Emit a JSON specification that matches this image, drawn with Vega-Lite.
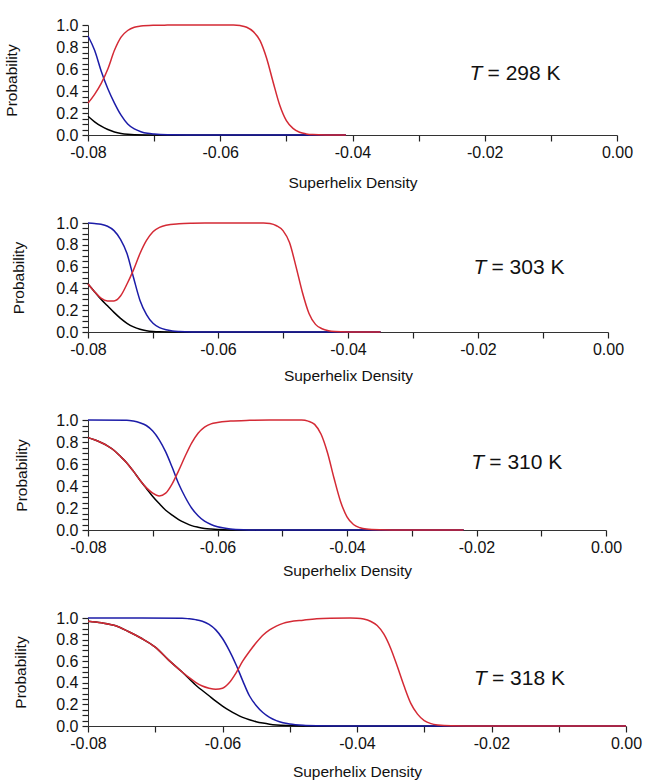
{
  "$schema": "https://vega.github.io/schema/vega-lite/v6.json",
  "padding": {"left": 4, "top": 17, "right": 5, "bottom": 5},
  "config": {
    "font": "Liberation Sans",
    "view": {"stroke": null},
    "axis": {
      "grid": false,
      "labelFontSize": 16,
      "titleFontSize": 15.5,
      "titleFontWeight": "normal",
      "labelColor": "#111111",
      "titleColor": "#111111",
      "domainColor": "#333333",
      "tickColor": "#222222",
      "tickWidth": 1.2,
      "labelOverlap": false
    },
    "text": {"color": "#111111"}
  },
  "datasets": {
    "t298": [
      {"x": -0.080, "p": 0.17, "state": "a"}, {"x": -0.079, "p": 0.12, "state": "a"}, {"x": -0.078, "p": 0.08, "state": "a"},
      {"x": -0.077, "p": 0.05, "state": "a"}, {"x": -0.076, "p": 0.028, "state": "a"}, {"x": -0.075, "p": 0.014, "state": "a"},
      {"x": -0.074, "p": 0.006, "state": "a"}, {"x": -0.073, "p": 0.002, "state": "a"}, {"x": -0.071, "p": 0.0005, "state": "a"},
      {"x": -0.068, "p": 0, "state": "a"}, {"x": -0.041, "p": 0, "state": "a"},
      {"x": -0.080, "p": 0.90, "state": "b"}, {"x": -0.079, "p": 0.77, "state": "b"}, {"x": -0.078, "p": 0.58, "state": "b"},
      {"x": -0.077, "p": 0.42, "state": "b"}, {"x": -0.076, "p": 0.29, "state": "b"}, {"x": -0.075, "p": 0.18, "state": "b"},
      {"x": -0.074, "p": 0.10, "state": "b"}, {"x": -0.073, "p": 0.055, "state": "b"}, {"x": -0.072, "p": 0.03, "state": "b"},
      {"x": -0.071, "p": 0.015, "state": "b"}, {"x": -0.070, "p": 0.008, "state": "b"}, {"x": -0.068, "p": 0.002, "state": "b"},
      {"x": -0.065, "p": 0.0005, "state": "b"}, {"x": -0.060, "p": 0, "state": "b"}, {"x": -0.041, "p": 0, "state": "b"},
      {"x": -0.080, "p": 0.29, "state": "c"}, {"x": -0.079, "p": 0.37, "state": "c"}, {"x": -0.078, "p": 0.47, "state": "c"},
      {"x": -0.077, "p": 0.60, "state": "c"}, {"x": -0.076, "p": 0.77, "state": "c"}, {"x": -0.075, "p": 0.89, "state": "c"},
      {"x": -0.074, "p": 0.95, "state": "c"}, {"x": -0.073, "p": 0.98, "state": "c"}, {"x": -0.072, "p": 0.99, "state": "c"},
      {"x": -0.070, "p": 0.997, "state": "c"}, {"x": -0.068, "p": 0.999, "state": "c"}, {"x": -0.066, "p": 1, "state": "c"},
      {"x": -0.058, "p": 1, "state": "c"}, {"x": -0.057, "p": 0.995, "state": "c"}, {"x": -0.056, "p": 0.98, "state": "c"},
      {"x": -0.055, "p": 0.94, "state": "c"}, {"x": -0.054, "p": 0.86, "state": "c"}, {"x": -0.053, "p": 0.70, "state": "c"},
      {"x": -0.052, "p": 0.48, "state": "c"}, {"x": -0.051, "p": 0.27, "state": "c"}, {"x": -0.050, "p": 0.13, "state": "c"},
      {"x": -0.049, "p": 0.06, "state": "c"}, {"x": -0.048, "p": 0.025, "state": "c"}, {"x": -0.047, "p": 0.01, "state": "c"},
      {"x": -0.046, "p": 0.004, "state": "c"}, {"x": -0.044, "p": 0.001, "state": "c"}, {"x": -0.041, "p": 0, "state": "c"}
    ],
    "t303": [
      {"x": -0.080, "p": 0.44, "state": "a"}, {"x": -0.079, "p": 0.37, "state": "a"}, {"x": -0.078, "p": 0.30, "state": "a"},
      {"x": -0.077, "p": 0.24, "state": "a"}, {"x": -0.076, "p": 0.18, "state": "a"}, {"x": -0.075, "p": 0.125, "state": "a"},
      {"x": -0.074, "p": 0.08, "state": "a"}, {"x": -0.073, "p": 0.047, "state": "a"}, {"x": -0.072, "p": 0.025, "state": "a"},
      {"x": -0.071, "p": 0.012, "state": "a"}, {"x": -0.070, "p": 0.005, "state": "a"}, {"x": -0.069, "p": 0.002, "state": "a"},
      {"x": -0.067, "p": 0.0005, "state": "a"}, {"x": -0.064, "p": 0, "state": "a"}, {"x": -0.035, "p": 0, "state": "a"},
      {"x": -0.080, "p": 1, "state": "b"}, {"x": -0.079, "p": 0.995, "state": "b"}, {"x": -0.078, "p": 0.988, "state": "b"},
      {"x": -0.077, "p": 0.97, "state": "b"}, {"x": -0.076, "p": 0.93, "state": "b"}, {"x": -0.075, "p": 0.85, "state": "b"},
      {"x": -0.074, "p": 0.72, "state": "b"}, {"x": -0.073, "p": 0.50, "state": "b"}, {"x": -0.072, "p": 0.29, "state": "b"},
      {"x": -0.071, "p": 0.16, "state": "b"}, {"x": -0.070, "p": 0.08, "state": "b"}, {"x": -0.069, "p": 0.04, "state": "b"},
      {"x": -0.068, "p": 0.02, "state": "b"}, {"x": -0.067, "p": 0.01, "state": "b"}, {"x": -0.066, "p": 0.005, "state": "b"},
      {"x": -0.064, "p": 0.001, "state": "b"}, {"x": -0.060, "p": 0, "state": "b"}, {"x": -0.035, "p": 0, "state": "b"},
      {"x": -0.080, "p": 0.44, "state": "c"}, {"x": -0.079, "p": 0.37, "state": "c"}, {"x": -0.078, "p": 0.31, "state": "c"},
      {"x": -0.077, "p": 0.285, "state": "c"}, {"x": -0.076, "p": 0.285, "state": "c"}, {"x": -0.075, "p": 0.33, "state": "c"},
      {"x": -0.074, "p": 0.44, "state": "c"}, {"x": -0.073, "p": 0.57, "state": "c"}, {"x": -0.072, "p": 0.72, "state": "c"},
      {"x": -0.071, "p": 0.84, "state": "c"}, {"x": -0.070, "p": 0.92, "state": "c"}, {"x": -0.069, "p": 0.96, "state": "c"},
      {"x": -0.068, "p": 0.98, "state": "c"}, {"x": -0.066, "p": 0.993, "state": "c"}, {"x": -0.064, "p": 0.998, "state": "c"},
      {"x": -0.062, "p": 1, "state": "c"}, {"x": -0.053, "p": 1, "state": "c"}, {"x": -0.052, "p": 0.995, "state": "c"},
      {"x": -0.051, "p": 0.975, "state": "c"}, {"x": -0.050, "p": 0.93, "state": "c"}, {"x": -0.049, "p": 0.82, "state": "c"},
      {"x": -0.048, "p": 0.60, "state": "c"}, {"x": -0.047, "p": 0.36, "state": "c"}, {"x": -0.046, "p": 0.17, "state": "c"},
      {"x": -0.045, "p": 0.07, "state": "c"}, {"x": -0.044, "p": 0.03, "state": "c"}, {"x": -0.043, "p": 0.012, "state": "c"},
      {"x": -0.042, "p": 0.005, "state": "c"}, {"x": -0.040, "p": 0.001, "state": "c"}, {"x": -0.035, "p": 0, "state": "c"}
    ],
    "t310": [
      {"x": -0.080, "p": 0.84, "state": "a"}, {"x": -0.079, "p": 0.82, "state": "a"}, {"x": -0.078, "p": 0.795, "state": "a"},
      {"x": -0.077, "p": 0.765, "state": "a"}, {"x": -0.076, "p": 0.725, "state": "a"}, {"x": -0.075, "p": 0.67, "state": "a"},
      {"x": -0.074, "p": 0.61, "state": "a"}, {"x": -0.073, "p": 0.535, "state": "a"}, {"x": -0.072, "p": 0.455, "state": "a"},
      {"x": -0.071, "p": 0.38, "state": "a"}, {"x": -0.070, "p": 0.305, "state": "a"}, {"x": -0.069, "p": 0.24, "state": "a"},
      {"x": -0.068, "p": 0.18, "state": "a"}, {"x": -0.067, "p": 0.135, "state": "a"}, {"x": -0.066, "p": 0.095, "state": "a"},
      {"x": -0.065, "p": 0.065, "state": "a"}, {"x": -0.064, "p": 0.04, "state": "a"}, {"x": -0.063, "p": 0.025, "state": "a"},
      {"x": -0.062, "p": 0.014, "state": "a"}, {"x": -0.061, "p": 0.008, "state": "a"}, {"x": -0.060, "p": 0.004, "state": "a"},
      {"x": -0.058, "p": 0.001, "state": "a"}, {"x": -0.055, "p": 0, "state": "a"}, {"x": -0.022, "p": 0, "state": "a"},
      {"x": -0.080, "p": 1, "state": "b"}, {"x": -0.074, "p": 0.998, "state": "b"}, {"x": -0.073, "p": 0.99, "state": "b"},
      {"x": -0.072, "p": 0.975, "state": "b"}, {"x": -0.071, "p": 0.95, "state": "b"}, {"x": -0.070, "p": 0.90, "state": "b"},
      {"x": -0.069, "p": 0.82, "state": "b"}, {"x": -0.068, "p": 0.71, "state": "b"}, {"x": -0.067, "p": 0.57, "state": "b"},
      {"x": -0.066, "p": 0.42, "state": "b"}, {"x": -0.065, "p": 0.30, "state": "b"}, {"x": -0.064, "p": 0.20, "state": "b"},
      {"x": -0.063, "p": 0.13, "state": "b"}, {"x": -0.062, "p": 0.08, "state": "b"}, {"x": -0.061, "p": 0.05, "state": "b"},
      {"x": -0.060, "p": 0.03, "state": "b"}, {"x": -0.059, "p": 0.018, "state": "b"}, {"x": -0.058, "p": 0.01, "state": "b"},
      {"x": -0.056, "p": 0.003, "state": "b"}, {"x": -0.054, "p": 0.001, "state": "b"}, {"x": -0.050, "p": 0, "state": "b"},
      {"x": -0.022, "p": 0, "state": "b"},
      {"x": -0.080, "p": 0.84, "state": "c"}, {"x": -0.079, "p": 0.82, "state": "c"}, {"x": -0.078, "p": 0.795, "state": "c"},
      {"x": -0.077, "p": 0.765, "state": "c"}, {"x": -0.076, "p": 0.725, "state": "c"}, {"x": -0.075, "p": 0.67, "state": "c"},
      {"x": -0.074, "p": 0.61, "state": "c"}, {"x": -0.073, "p": 0.535, "state": "c"}, {"x": -0.072, "p": 0.455, "state": "c"},
      {"x": -0.071, "p": 0.385, "state": "c"}, {"x": -0.070, "p": 0.335, "state": "c"}, {"x": -0.069, "p": 0.31, "state": "c"},
      {"x": -0.068, "p": 0.335, "state": "c"}, {"x": -0.067, "p": 0.42, "state": "c"}, {"x": -0.066, "p": 0.54, "state": "c"},
      {"x": -0.065, "p": 0.67, "state": "c"}, {"x": -0.064, "p": 0.79, "state": "c"}, {"x": -0.063, "p": 0.88, "state": "c"},
      {"x": -0.062, "p": 0.935, "state": "c"}, {"x": -0.061, "p": 0.965, "state": "c"}, {"x": -0.060, "p": 0.978, "state": "c"},
      {"x": -0.058, "p": 0.99, "state": "c"}, {"x": -0.055, "p": 0.997, "state": "c"}, {"x": -0.052, "p": 1, "state": "c"},
      {"x": -0.047, "p": 1, "state": "c"}, {"x": -0.046, "p": 0.99, "state": "c"}, {"x": -0.045, "p": 0.96, "state": "c"},
      {"x": -0.044, "p": 0.87, "state": "c"}, {"x": -0.043, "p": 0.70, "state": "c"}, {"x": -0.042, "p": 0.47, "state": "c"},
      {"x": -0.041, "p": 0.26, "state": "c"}, {"x": -0.040, "p": 0.12, "state": "c"}, {"x": -0.039, "p": 0.05, "state": "c"},
      {"x": -0.038, "p": 0.02, "state": "c"}, {"x": -0.037, "p": 0.008, "state": "c"}, {"x": -0.035, "p": 0.002, "state": "c"},
      {"x": -0.033, "p": 0.0005, "state": "c"}, {"x": -0.030, "p": 0, "state": "c"}, {"x": -0.022, "p": 0, "state": "c"}
    ],
    "t318": [
      {"x": -0.080, "p": 0.97, "state": "a"}, {"x": -0.078, "p": 0.955, "state": "a"}, {"x": -0.076, "p": 0.93, "state": "a"},
      {"x": -0.074, "p": 0.875, "state": "a"}, {"x": -0.072, "p": 0.81, "state": "a"}, {"x": -0.070, "p": 0.73, "state": "a"},
      {"x": -0.068, "p": 0.61, "state": "a"}, {"x": -0.066, "p": 0.50, "state": "a"}, {"x": -0.064, "p": 0.38, "state": "a"},
      {"x": -0.062, "p": 0.28, "state": "a"}, {"x": -0.061, "p": 0.23, "state": "a"}, {"x": -0.060, "p": 0.185, "state": "a"},
      {"x": -0.059, "p": 0.145, "state": "a"}, {"x": -0.058, "p": 0.11, "state": "a"}, {"x": -0.057, "p": 0.08, "state": "a"},
      {"x": -0.056, "p": 0.058, "state": "a"}, {"x": -0.055, "p": 0.04, "state": "a"}, {"x": -0.054, "p": 0.027, "state": "a"},
      {"x": -0.053, "p": 0.017, "state": "a"}, {"x": -0.052, "p": 0.01, "state": "a"}, {"x": -0.050, "p": 0.004, "state": "a"},
      {"x": -0.048, "p": 0.001, "state": "a"}, {"x": -0.045, "p": 0, "state": "a"}, {"x": 0, "p": 0, "state": "a"},
      {"x": -0.080, "p": 1, "state": "b"}, {"x": -0.066, "p": 0.998, "state": "b"}, {"x": -0.065, "p": 0.993, "state": "b"},
      {"x": -0.064, "p": 0.985, "state": "b"}, {"x": -0.063, "p": 0.97, "state": "b"}, {"x": -0.062, "p": 0.94, "state": "b"},
      {"x": -0.061, "p": 0.89, "state": "b"}, {"x": -0.060, "p": 0.81, "state": "b"}, {"x": -0.059, "p": 0.70, "state": "b"},
      {"x": -0.058, "p": 0.57, "state": "b"}, {"x": -0.057, "p": 0.42, "state": "b"}, {"x": -0.056, "p": 0.28, "state": "b"},
      {"x": -0.055, "p": 0.19, "state": "b"}, {"x": -0.054, "p": 0.125, "state": "b"}, {"x": -0.053, "p": 0.08, "state": "b"},
      {"x": -0.052, "p": 0.05, "state": "b"}, {"x": -0.051, "p": 0.03, "state": "b"}, {"x": -0.050, "p": 0.018, "state": "b"},
      {"x": -0.048, "p": 0.006, "state": "b"}, {"x": -0.046, "p": 0.002, "state": "b"}, {"x": -0.043, "p": 0.0005, "state": "b"},
      {"x": -0.040, "p": 0, "state": "b"}, {"x": 0, "p": 0, "state": "b"},
      {"x": -0.080, "p": 0.97, "state": "c"}, {"x": -0.078, "p": 0.955, "state": "c"}, {"x": -0.076, "p": 0.93, "state": "c"},
      {"x": -0.074, "p": 0.875, "state": "c"}, {"x": -0.072, "p": 0.81, "state": "c"}, {"x": -0.070, "p": 0.73, "state": "c"},
      {"x": -0.068, "p": 0.61, "state": "c"}, {"x": -0.066, "p": 0.50, "state": "c"}, {"x": -0.065, "p": 0.45, "state": "c"},
      {"x": -0.064, "p": 0.405, "state": "c"}, {"x": -0.063, "p": 0.37, "state": "c"}, {"x": -0.062, "p": 0.35, "state": "c"},
      {"x": -0.061, "p": 0.34, "state": "c"}, {"x": -0.060, "p": 0.35, "state": "c"}, {"x": -0.059, "p": 0.40, "state": "c"},
      {"x": -0.058, "p": 0.49, "state": "c"}, {"x": -0.057, "p": 0.60, "state": "c"}, {"x": -0.056, "p": 0.69, "state": "c"},
      {"x": -0.055, "p": 0.77, "state": "c"}, {"x": -0.054, "p": 0.84, "state": "c"}, {"x": -0.053, "p": 0.89, "state": "c"},
      {"x": -0.052, "p": 0.925, "state": "c"}, {"x": -0.051, "p": 0.95, "state": "c"}, {"x": -0.050, "p": 0.965, "state": "c"},
      {"x": -0.048, "p": 0.98, "state": "c"}, {"x": -0.046, "p": 0.993, "state": "c"}, {"x": -0.044, "p": 0.998, "state": "c"},
      {"x": -0.041, "p": 1, "state": "c"}, {"x": -0.040, "p": 0.998, "state": "c"}, {"x": -0.039, "p": 0.99, "state": "c"},
      {"x": -0.038, "p": 0.97, "state": "c"}, {"x": -0.037, "p": 0.93, "state": "c"}, {"x": -0.036, "p": 0.85, "state": "c"},
      {"x": -0.035, "p": 0.72, "state": "c"}, {"x": -0.034, "p": 0.55, "state": "c"}, {"x": -0.033, "p": 0.37, "state": "c"},
      {"x": -0.032, "p": 0.21, "state": "c"}, {"x": -0.031, "p": 0.11, "state": "c"}, {"x": -0.030, "p": 0.05, "state": "c"},
      {"x": -0.029, "p": 0.022, "state": "c"}, {"x": -0.028, "p": 0.01, "state": "c"}, {"x": -0.026, "p": 0.002, "state": "c"},
      {"x": -0.022, "p": 0.0005, "state": "c"}, {"x": -0.018, "p": 0, "state": "c"}, {"x": 0, "p": 0, "state": "c"}
    ]
  },
  "columns": 1,
  "spacing": 88,
  "bounds": "flush",
  "align": {"row": "none", "column": "all"},
  "concat": [
    {
      "width": 529,
      "height": 110,
      "resolve": {"axis": {"x": "independent", "y": "independent"}},
      "layer": [
        {
          "data": {"name": "t298"},
          "mark": {"type": "line", "interpolate": "monotone", "strokeWidth": 1.5},
          "encoding": {
            "x": {
              "field": "x", "type": "quantitative", "title": "Superhelix Density",
              "scale": {"domain": [-0.08, 0], "nice": false, "zero": false},
              "axis": {
                "orient": "bottom", "values": [-0.08, -0.07, -0.06, -0.05, -0.04, -0.03, -0.02, -0.01, 0],
                "format": ".2f", "labelExpr": "abs(round(datum.value*100)) % 2 == 0 ? replace(datum.label, '−', '-') : ''",
                "labelFlush": false, "labelOverlap": false, "tickSize": 6, "labelPadding": 3, "titlePadding": 15,
                "encode": {"ticks": {
                  "y": {"value": {"expr": "abs(round(datum.value*100)) % 2 == 0 ? -6 : -2.5"}},
                  "y2": {"value": {"expr": "abs(round(datum.value*100)) % 2 == 0 ? 6 : 2.5"}}
                }}
              }
            },
            "y": {
              "field": "p", "type": "quantitative", "title": "Probability",
              "scale": {"domain": [0, 1], "nice": false},
              "axis": {
                "orient": "left", "values": [0, 0.05, 0.1, 0.15, 0.2, 0.25, 0.3, 0.35, 0.4, 0.45, 0.5, 0.55, 0.6, 0.65, 0.7, 0.75, 0.8, 0.85, 0.9, 0.95, 1],
                "format": ".1f", "labelExpr": "round(datum.value*20) % 4 == 0 ? datum.label : ''",
                "labelOverlap": false, "tickSize": 6, "labelPadding": 4, "titlePadding": 36,
                "encode": {"ticks": {
                  "x": {"value": {"expr": "round(datum.value*20) % 4 == 0 ? 6 : 3"}},
                  "x2": {"value": {"expr": "round(datum.value*20) % 4 == 0 ? -6 : -3"}}
                }}
              }
            },
            "color": {
              "field": "state", "type": "nominal", "legend": null,
              "scale": {"domain": ["a", "b", "c"], "range": ["#000000", "#1c1ca8", "#d42a35"]}
            }
          }
        },
        {
          "data": {"values": [{}]},
          "mark": {"type": "text", "text": "T", "fontStyle": "italic", "fontSize": 21, "align": "left", "baseline": "middle"},
          "encoding": {
            "x": {"datum": -0.0223, "type": "quantitative", "axis": null},
            "y": {"datum": 0.555, "type": "quantitative", "axis": null}
          }
        },
        {
          "data": {"values": [{}]},
          "mark": {"type": "text", "text": "= 298 K", "fontSize": 21, "align": "left", "baseline": "middle", "dx": 18},
          "encoding": {
            "x": {"datum": -0.0223, "type": "quantitative", "axis": null},
            "y": {"datum": 0.555, "type": "quantitative", "axis": null}
          }
        }
      ]
    },
    {
      "width": 520,
      "height": 109,
      "resolve": {"axis": {"x": "independent", "y": "independent"}},
      "layer": [
        {
          "data": {"name": "t303"},
          "mark": {"type": "line", "interpolate": "monotone", "strokeWidth": 1.5},
          "encoding": {
            "x": {
              "field": "x", "type": "quantitative", "title": "Superhelix Density",
              "scale": {"domain": [-0.08, 0], "nice": false, "zero": false},
              "axis": {
                "orient": "bottom", "values": [-0.08, -0.07, -0.06, -0.05, -0.04, -0.03, -0.02, -0.01, 0],
                "format": ".2f", "labelExpr": "abs(round(datum.value*100)) % 2 == 0 ? replace(datum.label, '−', '-') : ''",
                "labelFlush": false, "labelOverlap": false, "tickSize": 6, "labelPadding": 3, "titlePadding": 11,
                "encode": {"ticks": {
                  "y": {"value": {"expr": "abs(round(datum.value*100)) % 2 == 0 ? -6 : -2.5"}},
                  "y2": {"value": {"expr": "abs(round(datum.value*100)) % 2 == 0 ? 6 : 2.5"}}
                }}
              }
            },
            "y": {
              "field": "p", "type": "quantitative", "title": "Probability",
              "scale": {"domain": [0, 1], "nice": false},
              "axis": {
                "orient": "left", "values": [0, 0.05, 0.1, 0.15, 0.2, 0.25, 0.3, 0.35, 0.4, 0.45, 0.5, 0.55, 0.6, 0.65, 0.7, 0.75, 0.8, 0.85, 0.9, 0.95, 1],
                "format": ".1f", "labelExpr": "round(datum.value*20) % 4 == 0 ? datum.label : ''",
                "labelOverlap": false, "tickSize": 6, "labelPadding": 4, "titlePadding": 29,
                "encode": {"ticks": {
                  "x": {"value": {"expr": "round(datum.value*20) % 4 == 0 ? 6 : 3"}},
                  "x2": {"value": {"expr": "round(datum.value*20) % 4 == 0 ? -6 : -3"}}
                }}
              }
            },
            "color": {
              "field": "state", "type": "nominal", "legend": null,
              "scale": {"domain": ["a", "b", "c"], "range": ["#000000", "#1c1ca8", "#d42a35"]}
            }
          }
        },
        {
          "data": {"values": [{}]},
          "mark": {"type": "text", "text": "T", "fontStyle": "italic", "fontSize": 21, "align": "left", "baseline": "middle"},
          "encoding": {
            "x": {"datum": -0.0207, "type": "quantitative", "axis": null},
            "y": {"datum": 0.587, "type": "quantitative", "axis": null}
          }
        },
        {
          "data": {"values": [{}]},
          "mark": {"type": "text", "text": "= 303 K", "fontSize": 21, "align": "left", "baseline": "middle", "dx": 18},
          "encoding": {
            "x": {"datum": -0.0207, "type": "quantitative", "axis": null},
            "y": {"datum": 0.587, "type": "quantitative", "axis": null}
          }
        }
      ]
    },
    {
      "width": 518,
      "height": 110,
      "resolve": {"axis": {"x": "independent", "y": "independent"}},
      "layer": [
        {
          "data": {"name": "t310"},
          "mark": {"type": "line", "interpolate": "monotone", "strokeWidth": 1.5},
          "encoding": {
            "x": {
              "field": "x", "type": "quantitative", "title": "Superhelix Density",
              "scale": {"domain": [-0.08, 0], "nice": false, "zero": false},
              "axis": {
                "orient": "bottom", "values": [-0.08, -0.07, -0.06, -0.05, -0.04, -0.03, -0.02, -0.01, 0],
                "format": ".2f", "labelExpr": "abs(round(datum.value*100)) % 2 == 0 ? replace(datum.label, '−', '-') : ''",
                "labelFlush": false, "labelOverlap": false, "tickSize": 6, "labelPadding": 3, "titlePadding": 8,
                "encode": {"ticks": {
                  "y": {"value": {"expr": "abs(round(datum.value*100)) % 2 == 0 ? -6 : -2.5"}},
                  "y2": {"value": {"expr": "abs(round(datum.value*100)) % 2 == 0 ? 6 : 2.5"}}
                }}
              }
            },
            "y": {
              "field": "p", "type": "quantitative", "title": "Probability",
              "scale": {"domain": [0, 1], "nice": false},
              "axis": {
                "orient": "left", "values": [0, 0.05, 0.1, 0.15, 0.2, 0.25, 0.3, 0.35, 0.4, 0.45, 0.5, 0.55, 0.6, 0.65, 0.7, 0.75, 0.8, 0.85, 0.9, 0.95, 1],
                "format": ".1f", "labelExpr": "round(datum.value*20) % 4 == 0 ? datum.label : ''",
                "labelOverlap": false, "tickSize": 6, "labelPadding": 4, "titlePadding": 26,
                "encode": {"ticks": {
                  "x": {"value": {"expr": "round(datum.value*20) % 4 == 0 ? 6 : 3"}},
                  "x2": {"value": {"expr": "round(datum.value*20) % 4 == 0 ? -6 : -3"}}
                }}
              }
            },
            "color": {
              "field": "state", "type": "nominal", "legend": null,
              "scale": {"domain": ["a", "b", "c"], "range": ["#000000", "#1c1ca8", "#d42a35"]}
            }
          }
        },
        {
          "data": {"values": [{}]},
          "mark": {"type": "text", "text": "T", "fontStyle": "italic", "fontSize": 21, "align": "left", "baseline": "middle"},
          "encoding": {
            "x": {"datum": -0.0208, "type": "quantitative", "axis": null},
            "y": {"datum": 0.612, "type": "quantitative", "axis": null}
          }
        },
        {
          "data": {"values": [{}]},
          "mark": {"type": "text", "text": "= 310 K", "fontSize": 21, "align": "left", "baseline": "middle", "dx": 18},
          "encoding": {
            "x": {"datum": -0.0208, "type": "quantitative", "axis": null},
            "y": {"datum": 0.612, "type": "quantitative", "axis": null}
          }
        }
      ]
    },
    {
      "width": 538,
      "height": 108,
      "resolve": {"axis": {"x": "independent", "y": "independent"}},
      "layer": [
        {
          "data": {"name": "t318"},
          "mark": {"type": "line", "interpolate": "monotone", "strokeWidth": 1.5},
          "encoding": {
            "x": {
              "field": "x", "type": "quantitative", "title": "Superhelix Density",
              "scale": {"domain": [-0.08, 0], "nice": false, "zero": false},
              "axis": {
                "orient": "bottom", "values": [-0.08, -0.07, -0.06, -0.05, -0.04, -0.03, -0.02, -0.01, 0],
                "format": ".2f", "labelExpr": "abs(round(datum.value*100)) % 2 == 0 ? replace(datum.label, '−', '-') : ''",
                "labelFlush": false, "labelOverlap": false, "tickSize": 6, "labelPadding": 3, "titlePadding": 13,
                "encode": {"ticks": {
                  "y": {"value": {"expr": "abs(round(datum.value*100)) % 2 == 0 ? -6 : -2.5"}},
                  "y2": {"value": {"expr": "abs(round(datum.value*100)) % 2 == 0 ? 6 : 2.5"}}
                }}
              }
            },
            "y": {
              "field": "p", "type": "quantitative", "title": "Probability",
              "scale": {"domain": [0, 1], "nice": false},
              "axis": {
                "orient": "left", "values": [0, 0.05, 0.1, 0.15, 0.2, 0.25, 0.3, 0.35, 0.4, 0.45, 0.5, 0.55, 0.6, 0.65, 0.7, 0.75, 0.8, 0.85, 0.9, 0.95, 1],
                "format": ".1f", "labelExpr": "round(datum.value*20) % 4 == 0 ? datum.label : ''",
                "labelOverlap": false, "tickSize": 6, "labelPadding": 4, "titlePadding": 27,
                "encode": {"ticks": {
                  "x": {"value": {"expr": "round(datum.value*20) % 4 == 0 ? 6 : 3"}},
                  "x2": {"value": {"expr": "round(datum.value*20) % 4 == 0 ? -6 : -3"}}
                }}
              }
            },
            "color": {
              "field": "state", "type": "nominal", "legend": null,
              "scale": {"domain": ["a", "b", "c"], "range": ["#000000", "#1c1ca8", "#d42a35"]}
            }
          }
        },
        {
          "data": {"values": [{}]},
          "mark": {"type": "text", "text": "T", "fontStyle": "italic", "fontSize": 21, "align": "left", "baseline": "middle"},
          "encoding": {
            "x": {"datum": -0.0226, "type": "quantitative", "axis": null},
            "y": {"datum": 0.432, "type": "quantitative", "axis": null}
          }
        },
        {
          "data": {"values": [{}]},
          "mark": {"type": "text", "text": "= 318 K", "fontSize": 21, "align": "left", "baseline": "middle", "dx": 18},
          "encoding": {
            "x": {"datum": -0.0226, "type": "quantitative", "axis": null},
            "y": {"datum": 0.432, "type": "quantitative", "axis": null}
          }
        }
      ]
    }
  ]
}
